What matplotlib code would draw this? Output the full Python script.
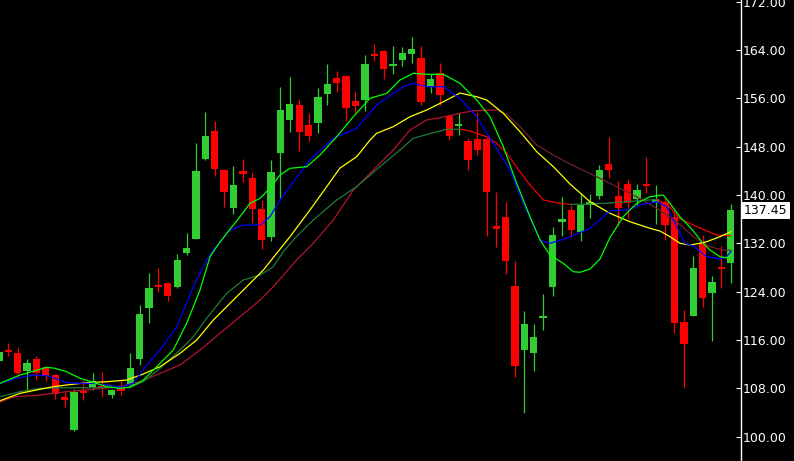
import matplotlib
matplotlib.use("Agg")
import matplotlib.pyplot as plt
import matplotlib.transforms as mtransforms
import numpy as np

# ---------------- data ----------------
candle_index = list(range(-1, 78))
opens = [112.6, 114.3, 113.85, 110.92, 112.86, 111.5, 110.2, 106.6, 101.16, 107.56,
         108.28, 108.44, 106.95, 108.28, 108.56, 112.86, 121.35, 125.1, 125.44, 124.83,
         130.45, 132.77, 146.0, 150.6, 144.19, 137.9, 143.98, 142.8, 137.69, 133.1,
         147.0, 152.42, 154.9, 151.59, 151.92, 156.72, 159.36, 159.7, 155.56, 155.73,
         163.3, 163.83, 161.4, 162.35, 163.34, 162.68, 157.88, 160.2, 153.0, 151.54,
         148.94, 149.27, 149.27, 134.87, 136.36, 124.94, 114.4, 113.9, 119.76, 124.77,
         135.53, 137.52, 133.88, 138.35, 139.9, 145.13, 139.9, 141.83, 139.34, 141.88,
         138.85, 138.85, 136.4, 118.98, 119.97, 132.27, 123.83, 128.1, 128.7]
highs = [114.5, 115.46, 114.8, 112.86, 113.36, 111.6, 110.4, 107.45, 107.9, 109.38,
         110.6, 110.7, 107.9, 109.38, 113.9, 121.75, 127.04, 127.97, 125.6, 130.24,
         133.66, 148.66, 153.74, 152.25, 144.3, 144.8, 145.96, 143.8, 139.18, 145.8,
         157.93, 159.58, 155.89, 153.52, 157.71, 161.68, 160.52, 159.8, 157.2, 163.17,
         164.99, 164.0, 164.66, 164.5, 166.15, 164.66, 160.03, 161.85, 153.4, 153.57,
         149.43, 153.74, 149.4, 140.5, 138.85, 129.08, 120.8, 118.65, 123.6, 134.7,
         139.67, 138.35, 140.33, 140.17, 144.97, 149.6, 142.3, 142.65, 141.83, 146.3,
         141.66, 139.73, 137.52, 121.0, 129.9, 133.4, 126.6, 131.56, 138.5]
lows = [112.3, 113.36, 109.93, 107.7, 109.38, 109.3, 106.24, 104.97, 100.94, 106.07,
        107.73, 106.6, 106.36, 106.9, 108.2, 111.87, 118.77, 124.0, 122.46, 124.66,
        130.07, 132.7, 145.8, 143.2, 137.97, 136.86, 142.2, 135.3, 131.07, 132.44,
        139.46, 150.43, 147.33, 149.0, 150.3, 154.9, 157.1, 152.3, 153.57, 153.9,
        162.17, 159.19, 160.03, 161.35, 161.85, 154.9, 156.9, 154.9, 149.1, 149.93,
        144.14, 146.62, 133.2, 131.4, 126.98, 109.93, 103.97, 110.9, 117.66, 123.3,
        133.2, 133.05, 132.4, 136.2, 139.34, 142.8, 134.87, 136.2, 138.35, 140.33,
        135.2, 132.57, 117.2, 108.06, 119.97, 121.5, 115.89, 124.56, 125.5]
closes = [114.1, 114.1, 110.49, 112.2, 110.49, 110.0, 107.07, 106.1, 107.4, 107.18,
          109.27, 108.0, 107.73, 107.56, 111.42, 120.3, 124.6, 124.85, 123.34, 129.25,
          131.23, 143.98, 149.77, 144.3, 140.55, 141.66, 143.53, 137.69, 132.6, 143.86,
          154.07, 155.07, 150.48, 149.77, 156.22, 158.37, 158.54, 154.45, 154.73, 161.68,
          163.0, 160.85, 161.73, 163.5, 164.17, 155.4, 159.2, 156.55, 149.8, 151.8,
          145.8, 147.45, 140.55, 134.37, 129.08, 111.75, 118.65, 116.5, 119.98, 133.38,
          136.0, 134.2, 138.35, 138.85, 144.14, 144.14, 137.9, 138.68, 140.83, 141.55,
          139.34, 135.04, 118.87, 115.4, 127.97, 123.0, 125.6, 127.9, 137.45]

# moving averages (position in candle units, value)
ma_fast_x = [-0.88, 1.25, 4.09, 4.98, 6.22, 7.64, 9.06, 10.49, 11.9, 12.97, 14.39, 15.82,
             17.58, 19.01, 20.43, 21.5, 22.21, 23.28, 24.69, 25.76, 26.83, 27.89, 28.96,
             30.02, 31.8, 33.22, 35.0, 36.77, 38.55, 40.33, 41.75, 43.16, 44.59, 46.36,
             48.14, 49.92, 51.34, 52.76, 54.18, 55.6, 56.67, 57.73, 59.15, 60.22, 60.93,
             61.99, 63.06, 64.13, 65.54, 66.97, 68.39, 69.81, 70.52, 71.59, 72.65, 73.9,
             74.78, 75.85, 76.56, 77.02]
ma_fast_y = [108.84, 110.21, 111.49, 111.32, 110.76, 109.67, 109.0, 108.28, 108.01, 108.18,
             109.38, 111.59, 114.35, 118.77, 124.28, 129.79, 131.45, 133.66, 136.41, 138.63,
             139.45, 141.16, 143.31, 144.42, 144.69, 146.62, 149.65, 152.96, 156.01, 156.83,
             159.04, 160.14, 159.98, 159.98, 158.49, 155.73, 152.96, 148.0, 141.94, 136.41,
             132.56, 130.07, 128.7, 127.31, 127.21, 127.75, 129.41, 132.97, 136.41, 138.63,
             139.72, 140.0, 138.63, 136.36, 134.71, 132.28, 130.9, 129.79, 129.6, 130.1]

ma_blue_x = [-0.88, 0.9, 2.66, 4.09, 5.51, 6.22, 7.64, 9.06, 10.49, 11.9, 13.32, 14.75,
             16.17, 17.95, 19.72, 21.14, 21.85, 23.63, 25.05, 26.83, 27.89, 28.96, 30.02,
             32.15, 34.64, 37.13, 39.26, 41.03, 42.1, 43.16, 44.59, 46.36, 48.14, 49.92,
             51.69, 53.47, 54.89, 56.67, 57.73, 59.51, 62.0, 64.13, 65.91, 67.33, 69.11,
             70.17, 71.24, 72.12, 73.01, 74.44, 75.85, 76.56, 77.02]
ma_blue_y = [108.84, 109.67, 110.21, 110.1, 109.38, 108.94, 108.84, 108.84, 108.56, 108.18,
             108.84, 111.87, 114.35, 118.2, 124.83, 129.25, 130.9, 134.21, 135.04, 135.04,
             136.41, 139.18, 141.38, 145.8, 149.39, 151.04, 154.9, 156.83, 157.93, 158.49,
             157.93, 157.93, 156.0, 152.96, 148.56, 144.14, 138.63, 132.56, 132.01, 132.84,
             134.49, 137.4, 137.52, 138.35, 138.89, 138.07, 134.76, 132.01, 131.56, 129.79,
             129.41, 129.79, 130.62]

ma_yellow_x = [-0.88, 1.25, 3.38, 4.8, 6.22, 8.36, 10.49, 12.62, 14.39, 16.17, 18.3, 20.08,
               21.85, 23.63, 25.41, 27.18, 28.6, 30.02, 32.15, 33.93, 35.35, 37.13, 38.55,
               39.26, 41.03, 42.81, 44.59, 46.36, 48.14, 49.92, 50.99, 52.76, 54.54, 56.32,
               58.09, 59.87, 62.0, 64.13, 66.26, 68.39, 69.46, 70.52, 71.59, 72.65, 73.72,
               74.44, 75.85, 77.02]
ma_yellow_y = [105.96, 107.18, 107.85, 108.28, 108.56, 108.94, 109.1, 109.38, 110.38, 111.59,
               113.8, 116.0, 119.31, 122.08, 124.83, 127.59, 130.35, 133.1, 137.52, 141.38,
               144.47, 146.34, 149.1, 150.22, 151.31, 152.96, 154.07, 155.44, 156.88, 156.27,
               155.73, 153.52, 150.48, 147.17, 144.69, 141.82, 138.89, 136.97, 135.58, 134.49,
               134.04, 133.1, 132.01, 131.73, 132.01, 132.28, 133.1, 133.93]

ma_trend_x = [-0.88, 1.25, 3.38, 6.22, 9.06, 11.19, 12.97, 14.39, 16.17, 18.3, 19.72, 21.14,
              23.28, 25.05, 26.83, 28.24, 29.31, 30.37, 32.5, 35.0, 37.13, 39.61, 41.75,
              43.16, 45.29, 46.72, 48.14, 49.21, 50.99, 52.05, 53.12, 54.54, 55.6, 57.02,
              58.8, 59.87, 61.46, 64.13, 66.79, 69.11, 70.31, 71.59, 73.72, 75.5, 76.38,
              77.02]
ma_trend_y = [106.62, 107.45, 108.01, 108.11, 108.12, 108.18, 108.19, 109.1, 111.32, 114.35,
              116.55, 119.6, 123.73, 125.93, 126.76, 128.14, 130.62, 132.56, 135.87, 139.18,
              141.38, 144.69, 147.45, 149.39, 150.31, 150.88, 150.9, 150.6, 149.65, 148.56,
              146.9, 143.86, 141.66, 139.18, 138.63, 138.46, 138.5, 138.68, 139.0, 139.26,
              138.35, 136.03, 134.54, 133.38, 133.3, 133.25]

ma_slow_x = [-0.88, 0.5, 3.38, 6.22, 9.06, 11.9, 14.04, 16.17, 18.3, 20.43, 22.56, 24.69,
             26.83, 28.24, 30.73, 32.5, 34.64, 36.77, 38.9, 41.03, 42.81, 44.59, 46.01,
             48.14, 49.56, 52.05, 53.12, 54.54, 56.32, 58.09, 59.87, 63.42, 66.97, 69.11,
             71.24, 73.01, 74.78, 76.17, 77.02]
ma_slow_y = [105.74, 106.57, 106.9, 107.45, 107.85, 108.28, 109.1, 110.49, 111.87, 114.35,
             117.11, 119.86, 122.62, 124.83, 129.25, 132.01, 135.87, 140.83, 144.14, 147.45,
             150.76, 152.42, 152.8, 153.52, 153.96, 154.07, 153.36, 151.31, 148.28, 146.62,
             145.13, 142.49, 139.72, 137.8, 135.58, 133.1, 131.45, 130.9, 130.85]

y_ticks = [100, 108, 116, 124, 132, 140, 148, 156, 164, 172]
last_price = 137.45

# ---------------- style ----------------
UP = "#32cd32"
DOWN = "#ff0000"

fig = plt.figure(figsize=(7.94, 4.61), dpi=100, facecolor="black")
ax = fig.add_axes([0, 0, 741 / 794, 1])
ax.set_facecolor("black")
ax.set_xlim(-0.885, 78.09)
ax.set_ylim(95.98, 172.28)

# candles
for i, o, h, l, c in zip(candle_index, opens, highs, lows, closes):
    col = UP if c >= o else DOWN
    ax.vlines(i, l, h, color=col, lw=0.9, zorder=2)
    lo, hi = min(o, c), max(o, c)
    hgt = max(hi - lo, 0.33)
    if hi - lo < 0.33:
        lo = (hi + lo) / 2 - 0.165
    ax.bar(i, hgt, bottom=lo, width=0.78, color=col, edgecolor="none",
           linewidth=0, zorder=3)


def draw_dir(xs, ys, up_col, down_col):
    for k in range(len(xs) - 1):
        col = up_col if ys[k + 1] >= ys[k] else down_col
        ax.plot(xs[k:k + 2], ys[k:k + 2], color=col, lw=0.9, zorder=4,
                solid_capstyle="round")


draw_dir(ma_slow_x, ma_slow_y, "#b3132d", "#6e1f2c")
draw_dir(ma_trend_x, ma_trend_y, "#1f7a3a", "#ee0000")
ax.plot(ma_yellow_x, ma_yellow_y, color="#ffff00", lw=0.9, zorder=5)
ax.plot(ma_blue_x, ma_blue_y, color="#0000ff", lw=0.9, zorder=5)
ax.plot(ma_fast_x, ma_fast_y, color="#00ff00", lw=0.9, zorder=6)

# axis
for s in ["top", "left", "bottom"]:
    ax.spines[s].set_visible(False)
ax.spines["right"].set_color("white")
ax.spines["right"].set_linewidth(1.0)
ax.set_xticks([])
ax.yaxis.tick_right()
ax.set_yticks(y_ticks)
ax.set_yticklabels([f"{v:.2f}" for v in y_ticks])
ax.tick_params(axis="y", colors="white", direction="in", length=3.5, width=0.8,
               pad=1.5, labelsize=9, labelcolor="white")

trans = mtransforms.blended_transform_factory(ax.transAxes, ax.transData)
ax.annotate(f"{last_price:.2f}", xy=(1.0, last_price), xycoords=trans,
            xytext=(2.2, 0), textcoords="offset points", ha="left", va="center",
            fontsize=9, color="black", annotation_clip=False,
            bbox=dict(boxstyle="square,pad=0.18", fc="white", ec="none"))

fig.savefig("out.png", dpi=100, facecolor="black")
